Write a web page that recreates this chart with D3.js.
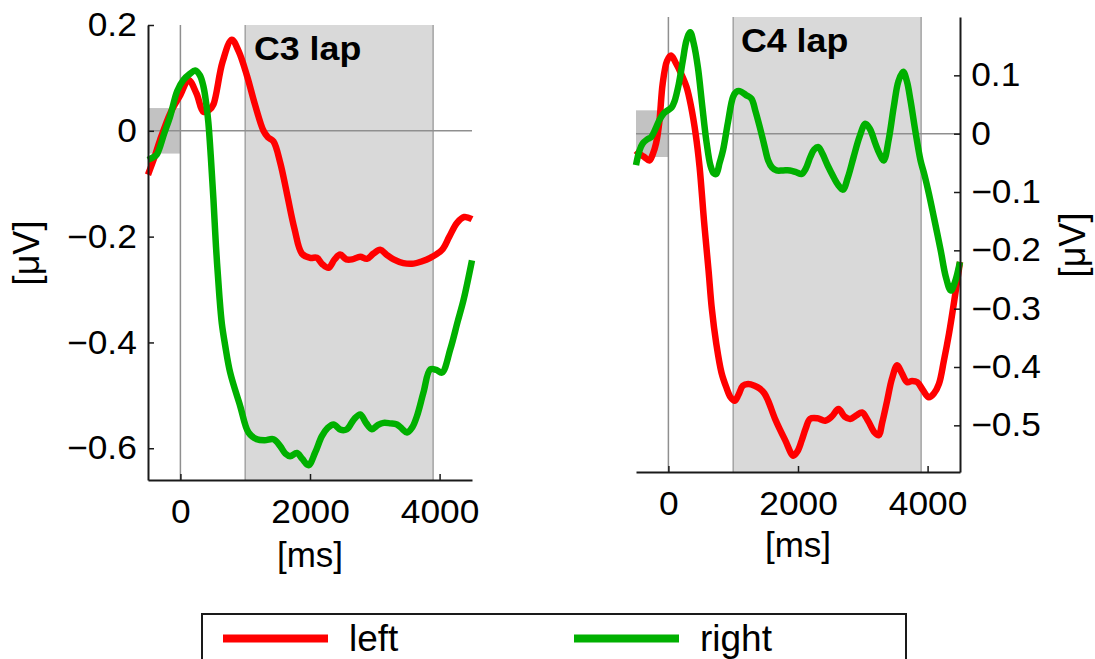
<!DOCTYPE html>
<html>
<head>
<meta charset="utf-8">
<script src="https://cdn.jsdelivr.net/npm/d3@7"></script>
<style>
  body { margin: 0; background: #fff; }
  svg { display: block; font-family: "Liberation Sans", Arial, Helvetica, sans-serif; }
</style>
</head>
<body>
<svg id="chart" width="1095" height="659"></svg>
<script>
// ---- data -------------------------------------------------------------
const timeTicks = [0, 2000, 4000];
const c3Ticks = [0.2, 0, -0.2, -0.4, -0.6];
const c4Ticks = [0.1, 0, -0.1, -0.2, -0.3, -0.4, -0.5];
const timeDomain = [-500, 4500];
const c3Domain = [-0.66, 0.2];
const c4Domain = [-0.58, 0.2];
const analysisWindow = [1000, 3900];
const baselineWindow = [-500, 0];
const c3BaselineBand = [-0.043, 0.043];
const c4BaselineBand = [-0.04, 0.04];
const panelTitles = ["C3 lap", "C4 lap"];
const seriesNames = ["left", "right"];
const seriesColors = ["#ff0000", "#00b000"];

// [time in ms, amplitude in µV]
const c3Left = [[-500,-0.083],[-400,-0.05],[-313,-0.017],[-150,0.035],[0,0.068],[125,0.096],[250,0.07],[355,0.036],[450,0.04],[510,0.05],[650,0.13],[793,0.172],[900,0.15],[1025,0.105],[1150,0.05],[1282,0.0],[1350,-0.012],[1436,-0.02],[1540,-0.06],[1643,-0.118],[1760,-0.185],[1875,-0.232],[2003,-0.240],[2106,-0.240],[2190,-0.252],[2286,-0.259],[2380,-0.243],[2466,-0.234],[2560,-0.243],[2650,-0.243],[2775,-0.238],[2878,-0.242],[2980,-0.232],[3084,-0.225],[3180,-0.234],[3290,-0.243],[3440,-0.250],[3599,-0.251],[3720,-0.247],[3856,-0.240],[4037,-0.225],[4150,-0.200],[4269,-0.174],[4380,-0.163],[4500,-0.167]];
const c3Right = [[-500,-0.055],[-420,-0.050],[-365,-0.045],[-250,-0.005],[-159,0.027],[-50,0.075],[46,0.096],[150,0.108],[227,0.114],[300,0.105],[355,0.084],[400,0.05],[432,0.015],[470,-0.05],[510,-0.130],[550,-0.22],[600,-0.31],[640,-0.365],[690,-0.405],[768,-0.457],[922,-0.520],[1050,-0.570],[1180,-0.583],[1300,-0.585],[1436,-0.583],[1540,-0.596],[1620,-0.610],[1694,-0.615],[1797,-0.609],[1880,-0.620],[1977,-0.632],[2080,-0.608],[2183,-0.577],[2270,-0.562],[2363,-0.555],[2470,-0.565],[2570,-0.564],[2680,-0.545],[2775,-0.536],[2870,-0.553],[2956,-0.564],[3050,-0.556],[3135,-0.552],[3240,-0.553],[3342,-0.555],[3420,-0.563],[3496,-0.570],[3580,-0.560],[3651,-0.539],[3750,-0.495],[3856,-0.451],[3950,-0.452],[4037,-0.457],[4165,-0.413],[4280,-0.36],[4371,-0.319],[4500,-0.245]];
const c4Left = [[-500,-0.029],[-430,-0.036],[-372,-0.040],[-295,-0.046],[-240,-0.035],[-191,-0.017],[-140,0.02],[-88,0.086],[-20,0.125],[41,0.134],[110,0.122],[196,0.103],[280,0.08],[351,0.046],[420,0.0],[481,-0.057],[550,-0.15],[620,-0.235],[670,-0.30],[739,-0.36],[820,-0.41],[894,-0.435],[960,-0.452],[1023,-0.458],[1080,-0.448],[1150,-0.432],[1230,-0.429],[1330,-0.432],[1411,-0.437],[1480,-0.445],[1540,-0.458],[1650,-0.49],[1800,-0.525],[1927,-0.552],[1990,-0.545],[2057,-0.526],[2120,-0.505],[2186,-0.489],[2300,-0.488],[2419,-0.492],[2520,-0.485],[2625,-0.472],[2720,-0.485],[2806,-0.489],[2900,-0.483],[2988,-0.478],[3080,-0.492],[3180,-0.512],[3245,-0.517],[3300,-0.495],[3375,-0.458],[3450,-0.42],[3530,-0.397],[3600,-0.41],[3685,-0.426],[3760,-0.424],[3840,-0.426],[3930,-0.44],[4020,-0.452],[4100,-0.445],[4175,-0.429],[4250,-0.39],[4330,-0.343],[4420,-0.28],[4500,-0.22]];
const c4Right = [[-500,-0.054],[-450,-0.03],[-398,-0.017],[-330,-0.01],[-268,-0.006],[-200,0.008],[-140,0.023],[-70,0.035],[-11,0.040],[50,0.045],[93,0.055],[160,0.085],[222,0.125],[280,0.16],[336,0.174],[390,0.155],[455,0.114],[520,0.05],[584,-0.011],[650,-0.055],[700,-0.068],[739,-0.069],[790,-0.05],[842,-0.029],[920,0.02],[997,0.063],[1050,0.072],[1101,0.073],[1200,0.066],[1282,0.060],[1340,0.04],[1411,0.011],[1480,-0.02],[1540,-0.046],[1600,-0.058],[1669,-0.063],[1770,-0.063],[1876,-0.063],[1970,-0.066],[2057,-0.069],[2120,-0.06],[2190,-0.04],[2250,-0.027],[2315,-0.023],[2380,-0.035],[2460,-0.055],[2547,-0.074],[2620,-0.088],[2693,-0.096],[2770,-0.075],[2858,-0.040],[2950,-0.005],[3039,0.017],[3110,0.008],[3194,-0.017],[3260,-0.035],[3323,-0.046],[3400,-0.01],[3478,0.046],[3550,0.09],[3623,0.106],[3680,0.09],[3736,0.057],[3810,0.005],[3891,-0.046],[3950,-0.07],[4020,-0.103],[4100,-0.145],[4202,-0.200],[4280,-0.245],[4357,-0.269],[4420,-0.255],[4500,-0.22]];

// ---- drawing ----------------------------------------------------------
const svg = d3.select("#chart");
const tickFont = 33;
const tickStretch = 1.07;   // tick digits are set slightly wide
const titleStretch = 1.1;
const fmt = d3.format("");

function drawPanel(cfg) {
  const x = d3.scaleLinear().domain(timeDomain).range([cfg.x0, cfg.x1]);
  const y = d3.scaleLinear().domain(cfg.yDomain).range([cfg.y1, cfg.y0]);
  const g = svg.append("g");

  // analysis window
  g.append("rect")
    .attr("x", x(analysisWindow[0])).attr("y", cfg.y0)
    .attr("width", x(analysisWindow[1]) - x(analysisWindow[0]))
    .attr("height", cfg.y1 - cfg.y0)
    .attr("fill", "#d9d9d9");
  g.selectAll("line.win").data(analysisWindow).join("line")
    .attr("x1", d => x(d)).attr("x2", d => x(d))
    .attr("y1", cfg.y0).attr("y2", cfg.y1)
    .attr("stroke", "#a3a3a3").attr("stroke-width", 1.5);

  // baseline interval
  g.append("rect")
    .attr("x", x(baselineWindow[0]))
    .attr("width", x(baselineWindow[1]) - x(baselineWindow[0]))
    .attr("y", y(cfg.band[1]))
    .attr("height", y(cfg.band[0]) - y(cfg.band[1]))
    .attr("fill", "#c2c2c2");

  // zero references
  g.append("line")
    .attr("x1", x(0)).attr("x2", x(0)).attr("y1", cfg.y0).attr("y2", cfg.y1)
    .attr("stroke", "#8f8f8f").attr("stroke-width", 1.5);
  g.append("line")
    .attr("x1", cfg.x0).attr("x2", cfg.x1).attr("y1", y(0)).attr("y2", y(0))
    .attr("stroke", "#8f8f8f").attr("stroke-width", 1.5);

  // ERP curves
  const line = d3.line()
    .x(d => x(d[0])).y(d => y(d[1]))
    .curve(d3.curveCatmullRom.alpha(0.5));
  cfg.series.forEach((s, i) => {
    g.append("path")
      .attr("d", line(s))
      .attr("fill", "none")
      .attr("stroke", seriesColors[i])
      .attr("stroke-width", 6.5)
      .attr("stroke-linejoin", "round");
  });

  // axes
  const xAxis = d3.axisBottom(x).tickValues(timeTicks).tickFormat(fmt)
    .tickSizeInner(-6).tickSizeOuter(0).tickPadding(20);
  const gx = g.append("g").attr("transform", `translate(0,${cfg.y1})`).call(xAxis);

  const yAxis = (cfg.side === "left" ? d3.axisLeft(y) : d3.axisRight(y))
    .tickValues(cfg.ticks).tickFormat(d3.format(""))
    .tickSizeInner(-6).tickSizeOuter(0).tickPadding(10.5);
  const gy = g.append("g")
    .attr("transform", `translate(${cfg.side === "left" ? cfg.x0 : cfg.x1},0)`)
    .call(yAxis);

  [gx, gy].forEach(ax => {
    ax.select(".domain").attr("stroke", "#1a1a1a").attr("stroke-width", 2);
    ax.selectAll(".tick line").attr("stroke", "#1a1a1a").attr("stroke-width", 1.5);
    ax.selectAll(".tick text")
      .attr("fill", "#000")
      .attr("transform", `scale(${tickStretch},1)`)
      .style("font-size", tickFont + "px")
      .style("font-family", "'Liberation Sans', Arial, sans-serif");
  });

  // title
  g.append("text")
    .attr("transform", `translate(${cfg.titleX},${cfg.titleY}) scale(${titleStretch},1)`)
    .style("font-size", "32.5px").style("font-weight", "bold")
    .text(cfg.title);

  // axis labels
  g.append("text")
    .attr("x", x(2000)).attr("y", cfg.msY)
    .attr("text-anchor", "middle")
    .style("font-size", "35px")
    .text("[ms]");
  g.append("text")
    .attr("transform", `translate(${cfg.uvX},${cfg.uvY}) rotate(-90)`)
    .attr("text-anchor", "middle")
    .style("font-size", "36px")
    .text("[\u03bcV]");
}

drawPanel({
  x0: 148, x1: 472, y0: 25, y1: 480,
  yDomain: c3Domain, ticks: c3Ticks, band: c3BaselineBand,
  series: [c3Left, c3Right], side: "left",
  title: panelTitles[0], titleX: 254, titleY: 60,
  msY: 567, uvX: 39, uvY: 253
});
drawPanel({
  x0: 636, x1: 960, y0: 17, y1: 472,
  yDomain: c4Domain, ticks: c4Ticks, band: c4BaselineBand,
  series: [c4Left, c4Right], side: "right",
  title: panelTitles[1], titleX: 741, titleY: 52,
  msY: 557, uvX: 1085, uvY: 245
});

// legend
const legend = svg.append("g");
legend.append("rect")
  .attr("x", 202).attr("y", 614).attr("width", 704).attr("height", 80)
  .attr("fill", "#fff").attr("stroke", "#1a1a1a").attr("stroke-width", 2);
const legendX = [223, 574];
seriesNames.forEach((name, i) => {
  legend.append("line")
    .attr("x1", legendX[i]).attr("x2", legendX[i] + 105)
    .attr("y1", 638.5).attr("y2", 638.5)
    .attr("stroke", seriesColors[i]).attr("stroke-width", 8);
  legend.append("text")
    .attr("x", legendX[i] + 126).attr("y", 651)
    .style("font-size", "37px")
    .text(name);
});
</script>
</body>
</html>
